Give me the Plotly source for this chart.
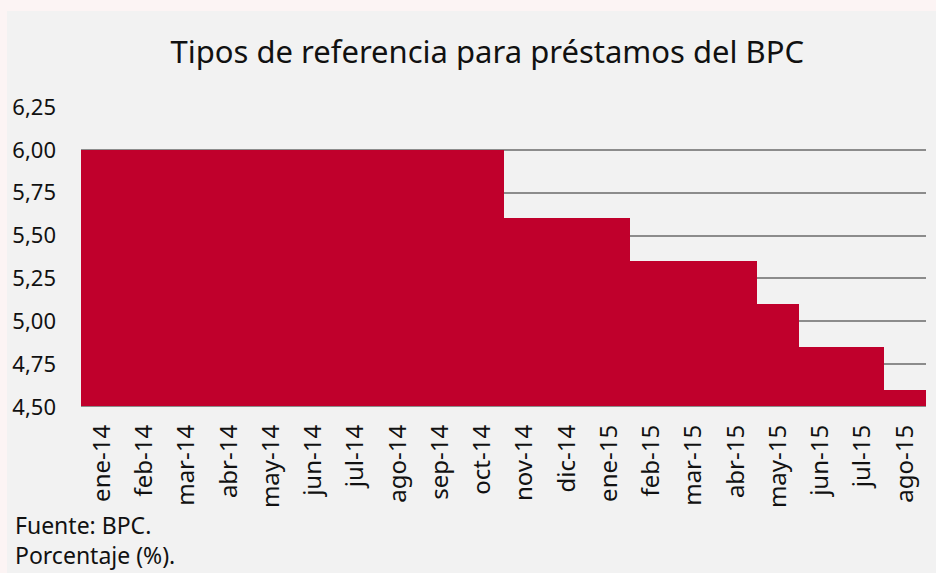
import plotly.graph_objects as go

months = ["ene-14", "feb-14", "mar-14", "abr-14", "may-14", "jun-14", "jul-14", "ago-14",
          "sep-14", "oct-14", "nov-14", "dic-14", "ene-15", "feb-15", "mar-15", "abr-15",
          "may-15", "jun-15", "jul-15", "ago-15"]
rates = [6.00, 6.00, 6.00, 6.00, 6.00, 6.00, 6.00, 6.00, 6.00, 6.00,
         5.60, 5.60, 5.60, 5.35, 5.35, 5.35, 5.10, 4.85, 4.85, 4.60]
y_ticks = [4.50, 4.75, 5.00, 5.25, 5.50, 5.75, 6.00, 6.25]
BASE = 4.5

FONT = "Noto Sans, Roboto, sans-serif"

fig = go.Figure()
fig.add_trace(go.Bar(x=months, y=[r - BASE for r in rates], base=BASE,
                     marker=dict(color="#c0002c", line=dict(width=0)),
                     hovertemplate="%{x}: %{customdata:.2f}<extra></extra>",
                     customdata=rates))

# figure is placed at page offset (7, 11); pink page shows around it
fig.update_layout(
    width=929, height=562,
    paper_bgcolor="#f2f2f2", plot_bgcolor="#f2f2f2",
    margin=dict(l=74, r=10, t=96, b=166, autoexpand=False),
    bargap=0, showlegend=False,
    separators=",.",
    font=dict(family=FONT, color="#111111"),
    title=dict(text="Tipos de referencia para préstamos del BPC", x=0.517, xanchor="center",
               y=0.927, yanchor="middle", font=dict(size=31, family=FONT, color="#111111")),
    xaxis=dict(type="category", tickangle=-90, tickfont=dict(size=24, family=FONT),
               showgrid=False, showline=False, ticks="", range=[-0.5, 19.5],
               automargin=False, ticklabelstandoff=12),
    yaxis=dict(range=[4.5, 6.25], tickvals=y_ticks, tickformat=".2f",
               tickfont=dict(size=22, family=FONT),
               showgrid=True, gridcolor="#8c8c8c", gridwidth=1.5, zeroline=False,
               showline=False, ticks="", automargin=False, ticklabelstandoff=24),
    shapes=[
        dict(type="line", xref="paper", yref="y", x0=0, x1=1, y0=4.5, y1=4.5,
             line=dict(color="#8c8c8c", width=2), layer="above"),
    ],
    annotations=[
        dict(text="Fuente: BPC.", xref="paper", yref="paper", x=-0.081, y=-0.392,
             xanchor="left", yanchor="middle", showarrow=False,
             font=dict(size=23, family=FONT, color="#111111")),
        dict(text="Porcentaje (%).", xref="paper", yref="paper", x=-0.081, y=-0.492,
             xanchor="left", yanchor="middle", showarrow=False,
             font=dict(size=23, family=FONT, color="#111111")),
    ],
)

post = """
document.body.style.margin='0';
document.body.style.padding='11px 0 0 7px';
document.body.style.background='#fcf4f4';
"""
fig.write_html("out.html", post_script=post, config={"displayModeBar": False})
